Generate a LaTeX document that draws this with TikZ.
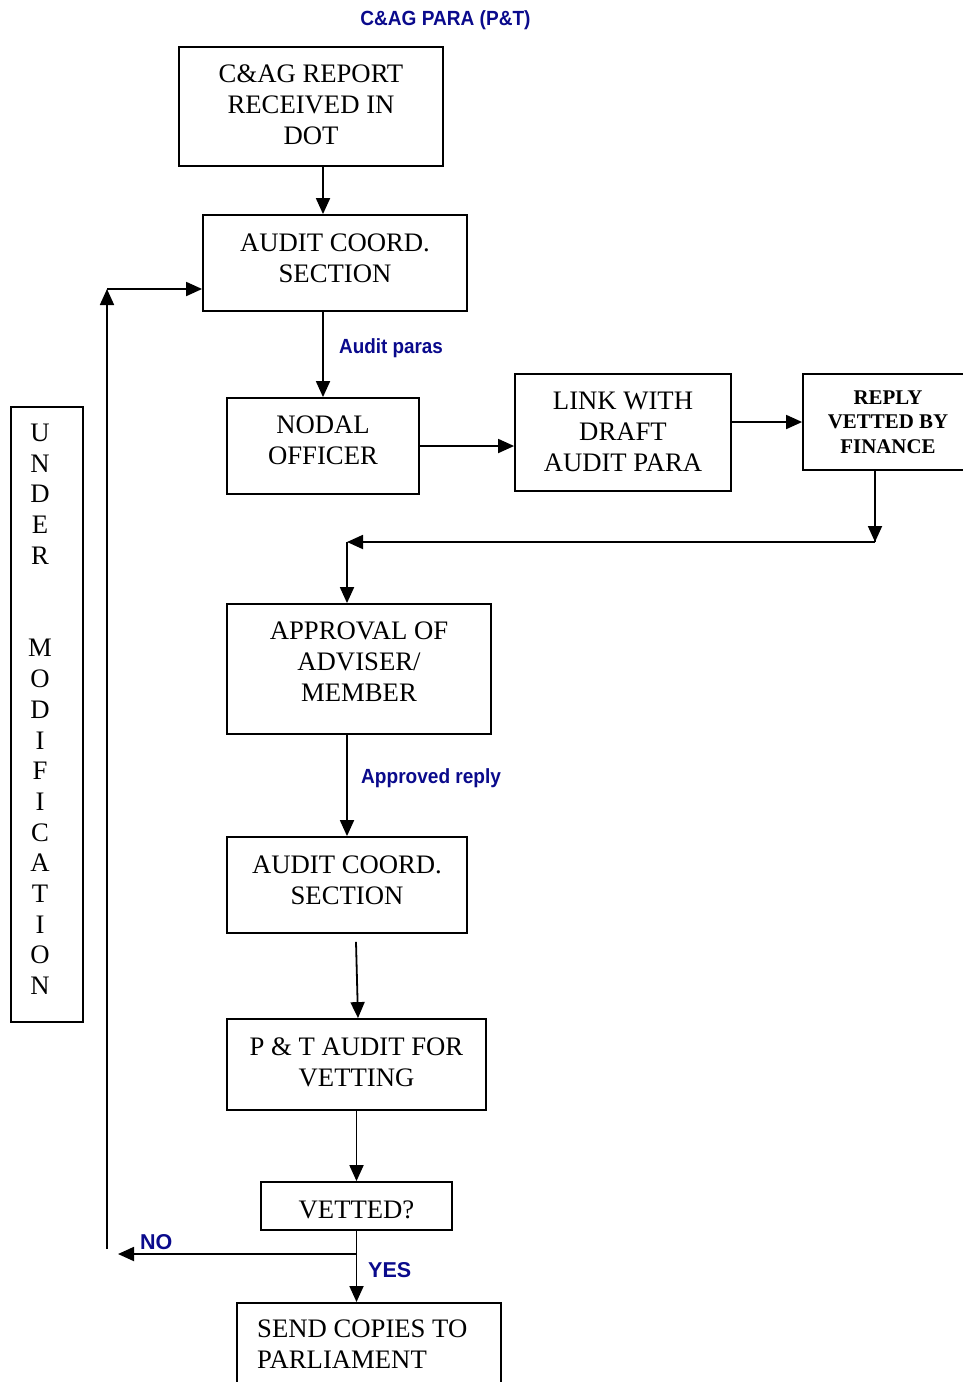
\documentclass[tikz,border=0pt]{standalone}
\usepackage{fontspec}
\usepackage{graphicx}
\setmainfont{Liberation Serif}
\newfontfamily\arialfont{Liberation Sans}
\usetikzlibrary{arrows.meta}
\definecolor{navy}{RGB}{10,10,140}
\begin{document}
\begin{tikzpicture}[x=1pt,y=-1pt,
  box/.style={draw, line width=1.8pt, inner sep=0pt, align=center,
    font=\fontsize{26.7}{31}\selectfont},
  arr/.style={line width=1.8pt, -{Triangle[length=16pt,width=14pt]}},
  ln/.style={line width=1.8pt},
  lbl/.style={text=navy, inner sep=0pt, font=\arialfont\bfseries\fontsize{20.5}{24}\selectfont},
  yn/.style={text=navy, inner sep=0pt, font=\arialfont\bfseries\fontsize{21.5}{24}\selectfont},
  letter/.style={inner sep=0pt, font=\fontsize{26.7}{31}\selectfont}]
\useasboundingbox (0,0) rectangle (963,1382);
\clip (0,0) rectangle (963,1382);
\fill[white] (0,0) rectangle (963,1382);

\node[lbl] (title) at (445.5,20) {\scalebox{0.93}[1]{C\&AG PARA (P\&T)}};

\node[box, minimum width=264pt, minimum height=119pt, text depth=4pt] (b1) at (311,106.5) {C\&AG REPORT\\RECEIVED IN\\DOT};
\node[box, minimum width=264pt, minimum height=96pt, text depth=10pt] (b2) at (335,263) {AUDIT COORD.\\SECTION};
\node[box, minimum width=192pt, minimum height=96pt, text depth=11pt] (nodal) at (323,446) {NODAL\\OFFICER};
\node[box, minimum width=216pt, minimum height=117pt, text depth=2pt] (link) at (623,432.5) {LINK WITH\\DRAFT\\AUDIT PARA};
\node[box, minimum width=170pt, minimum height=96pt, font=\bfseries\fontsize{20.9}{24.5}\selectfont] (reply) at (888,422) {REPLY\\VETTED BY\\FINANCE};
\node[box, minimum width=264pt, minimum height=130pt, text depth=14pt] (appr) at (359,669) {APPROVAL OF\\ADVISER/\\MEMBER};
\node[box, minimum width=240pt, minimum height=96pt, text depth=10pt] (b3) at (347,885) {AUDIT COORD.\\SECTION};
\node[box, minimum width=259pt, minimum height=91pt, text depth=4pt] (pt) at (356.5,1064.5) {P \& T AUDIT FOR\\VETTING};
\node[box, minimum width=191pt, minimum height=48pt, text height=25pt] (vet) at (356.5,1206) {VETTED?};
\node[box, minimum width=264pt, minimum height=100pt, anchor=north west] (send) at (236,1302) {};
\node[align=left, anchor=west, inner sep=0pt, font=\fontsize{26.7}{31}\selectfont] (sendtxt) at (257,1344.5) {SEND COPIES TO\\PARLIAMENT};

% under modification box
\node[draw, line width=1.8pt, minimum width=72pt, minimum height=615pt, inner sep=0pt] (um) at (47,714.5) {};
\foreach \ch/\yy in {U/433,N/464,D/494,E/525,R/556,M/648,O/679,D/710,I/741,F/771,I/802,C/833,A/863,T/894,I/925,O/955,N/986}
  \node[letter] at (40,\yy) {\ch};

% connectors
\draw[arr] ([xshift=12pt]b1.south) -- ([xshift=-12pt]b2.north);
\draw[arr] ([xshift=-12pt]b2.south) -- (nodal.north);
\node[lbl, anchor=west] (ap) at (339,348) {\scalebox{0.92}[1]{Audit paras}};
\draw[arr] ([yshift=-13.5pt]link.west -| nodal.east) -- ([yshift=-13.5pt]link.west);
\draw[arr] ([yshift=10.5pt]link.east) -- (reply.west);
\coordinate (c1) at (875,542);
\coordinate (c2) at (347,542);
\draw[ln] ([xshift=-13pt]reply.south) -- (c1);
\draw[arr] (875,528) -- (c1);
\draw[arr] (c1) -- (c2);
\draw[arr] (c2) -- ([xshift=-12pt]appr.north);
\draw[arr] ([xshift=-12pt]appr.south) -- (b3.north);
\node[lbl, anchor=west] (ar) at (361,778) {\scalebox{0.93}[1]{Approved reply}};
\draw[arr] ([xshift=9pt,yshift=-8pt]b3.south) -- ([xshift=1.5pt]pt.north);
\draw[arr] (pt.south) -- (vet.north);
\draw[arr] (vet.south) -- (vet.south |- send.north);
\coordinate (br) at (357,1254);
\coordinate (noend) at (118,1254);
\draw[arr] (br) -- (noend);
\node[yn, anchor=west] (no) at (140,1242) {NO};
\node[yn, anchor=west] (yes) at (368,1270) {YES};
\coordinate (lb) at (107,1249);
\coordinate (lt) at (107,289);
\draw[arr] (lb) -- (lt);
\draw[arr] (lt) -- (lt -| b2.west);
\end{tikzpicture}
\end{document}
